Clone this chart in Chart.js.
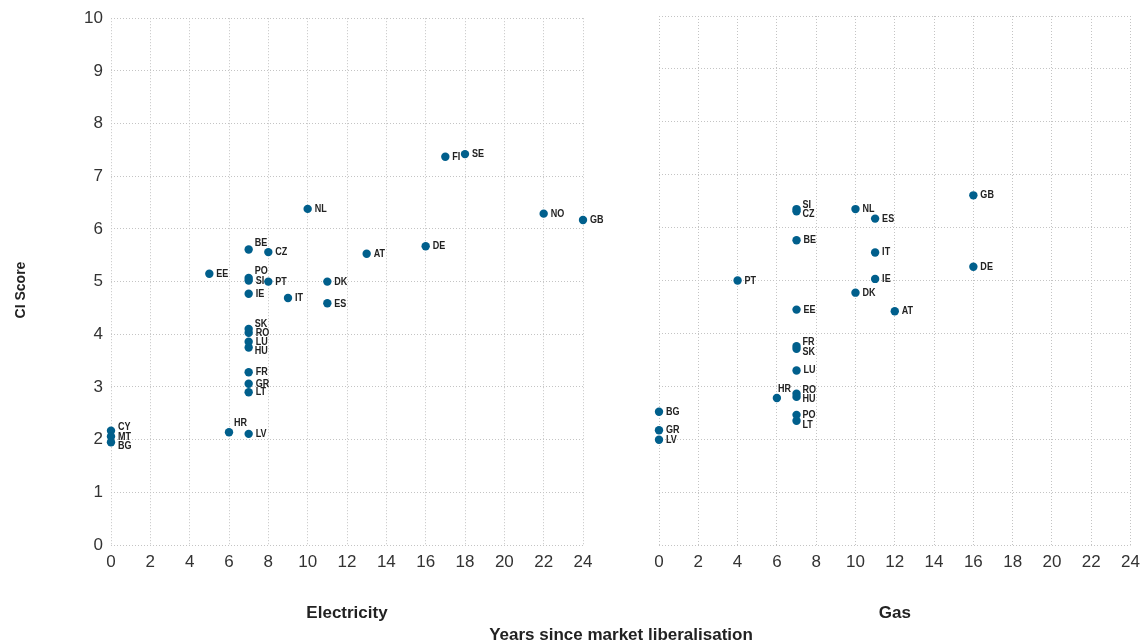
<!DOCTYPE html>
<html><head><meta charset="utf-8">
<script src="https://cdn.jsdelivr.net/npm/chart.js@4"></script>
<style>
html,body{margin:0;padding:0;background:#fff;overflow:hidden;}
#wrap{position:relative;width:1147px;height:642px;}
#c1{position:absolute;left:0;top:0;}
#c2{position:absolute;left:600px;top:0;}
.t{position:absolute;text-align:center;font-family:'Liberation Sans',Arial,sans-serif;font-weight:bold;color:#222;white-space:nowrap;}
#xt{left:421px;width:400px;top:625px;font-size:17px;line-height:20px;}
#yt{left:-30px;width:100px;top:280px;font-size:14px;line-height:20px;transform:rotate(-90deg);}
</style>
</head><body>
<div id="wrap">
<canvas id="c1" width="640" height="642"></canvas>
<canvas id="c2" width="547" height="642"></canvas>
<div id="xt" class="t">Years since market liberalisation</div>
<div id="yt" class="t">CI Score</div>
</div>
<script>
// ---- data ----
const elecCountries = ['CY','MT','BG','HR','LV','LT','GR','FR','HU','LU','RO','SK','IE','SI','PO','PT','EE','BE','CZ','IT','DK','ES','NL','AT','DE','FI','SE','NO','GB'];
const elecYears     = [0,0,0,6,7,7,7,7,7,7,7,7,7,7,7,8,5,7,8,9,11,11,10,13,16,17,18,22,24];
const elecScores    = [2.17,2.06,1.95,2.14,2.11,2.90,3.06,3.28,3.75,3.86,4.03,4.10,4.77,5.02,5.07,5.00,5.15,5.61,5.56,4.69,5.00,4.59,6.38,5.53,5.67,7.37,7.42,6.29,6.17];

const gasCountries = ['BG','GR','LV','PT','HR','SI','CZ','BE','EE','FR','SK','LU','RO','HU','PO','LT','NL','DK','ES','IT','IE','AT','GB','DE'];
const gasYears     = [0,0,0,4,6,7,7,7,7,7,7,7,7,7,7,7,10,10,11,11,11,12,16,16];
const gasScores    = [2.52,2.17,1.99,5.00,2.78,6.35,6.31,5.76,4.45,3.76,3.71,3.30,2.86,2.80,2.46,2.35,6.35,4.77,6.17,5.53,5.03,4.42,6.61,5.26];

const xTicks = [0,2,4,6,8,10,12,14,16,18,20,22,24];
const yTicks = [0,1,2,3,4,5,6,7,8,9,10];

// ---- label placement (style only) ----
const elecLabelOffsets = {CY:[7,-4],BG:[7,4],HR:[5,-9],SK:[6,-5],HU:[6,4],BE:[6,-6],PO:[6,-7],ES:[7,1]};
const gasLabelOffsets  = {SI:[6,-4],CZ:[6,3],FR:[6,-4],SK:[6,3],HR:[1,-9],RO:[6,-4],HU:[6,2],LT:[6,4],PO:[6,0]};

const FONT = "'Liberation Sans',Arial,sans-serif";
Chart.defaults.font.family = FONT;
const DOT = '#005f8c';
const GRID = '#c4c4c4';

const labelPlugin = {
  id:'ptLabels',
  afterDatasetsDraw(chart, args, opts){
    const ctx = chart.ctx;
    const meta = chart.getDatasetMeta(0);
    const sx = 0.82;
    ctx.save();
    ctx.font = 'bold 11px ' + FONT;
    ctx.fillStyle = '#222';
    ctx.textBaseline = 'middle';
    ctx.textAlign = 'left';
    meta.data.forEach((pt,i)=>{
      const name = opts.names[i];
      const off = opts.offsets[name] || [7,0];
      ctx.save();
      ctx.translate(pt.x+off[0], pt.y+off[1]);
      ctx.scale(sx,1);
      ctx.fillText(name, 0, 0);
      ctx.restore();
    });
    ctx.restore();
  }
};

function makeChart(id, names, xs, ys, offsets, xTitle, yWidth, showY, rightPad){
  const pts = xs.map((x,i)=>({x:x, y:ys[i]}));
  return new Chart(document.getElementById(id), {
    type:'scatter',
    data:{datasets:[{data:pts, backgroundColor:DOT, borderWidth:0, pointRadius:4.2, pointHoverRadius:4.2, clip:false}]},
    plugins:[labelPlugin],
    options:{
      responsive:false, animation:false, events:[],
      layout:{padding:{top:16,right:rightPad,bottom:0,left:0}},
      plugins:{legend:{display:false}, tooltip:{enabled:false},
        ptLabels:{names:names, offsets:offsets}},
      scales:{
        x:{type:'linear', min:0, max:24,
          afterBuildTicks:(s)=>{ s.ticks = xTicks.map(v=>({value:v})); },
          afterFit:(s)=>{ s.height = 97; },
          ticks:{font:{size:17}, color:'#333', padding:7, maxRotation:0, autoSkip:false},
          grid:{color:GRID, drawTicks:false, lineWidth:1},
          border:{display:false, dash:[1,2]},
          title:{display:true, text:xTitle, color:'#222', font:{size:17, weight:'bold'}, padding:{top:0,bottom:18}}
        },
        y:{type:'linear', min:0, max:10,
          afterBuildTicks:(s)=>{ s.ticks = yTicks.map(v=>({value:v})); },
          afterFit:(s)=>{ s.width = yWidth; },
          ticks:{display:showY, font:{size:17}, color:'#333', padding:8},
          grid:{color:GRID, drawTicks:false, lineWidth:1},
          border:{display:false, dash:[1,2]}
        }
      }
    }
  });
}

makeChart('c1', elecCountries, elecYears, elecScores, elecLabelOffsets, 'Electricity', 111, true, 57);
makeChart('c2', gasCountries, gasYears, gasScores, gasLabelOffsets, 'Gas', 59, false, 16);
</script>
</body></html>
